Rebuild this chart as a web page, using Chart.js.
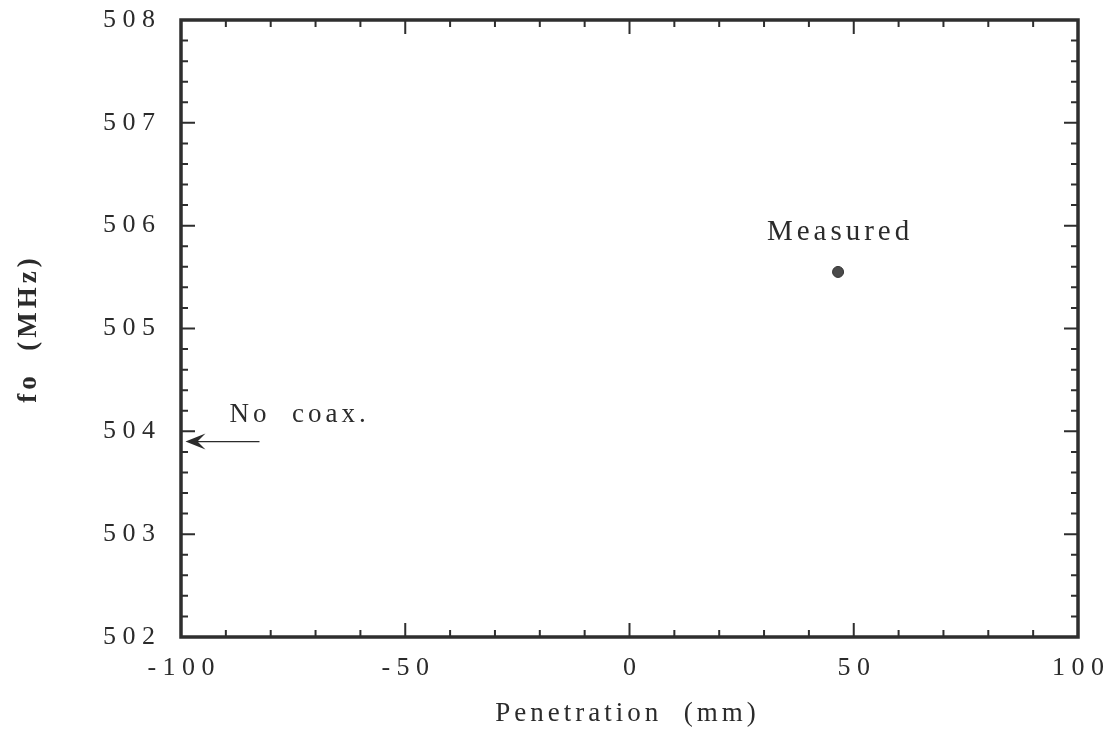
<!DOCTYPE html>
<html><head><meta charset="utf-8">
<script src="https://cdn.jsdelivr.net/npm/chart.js@4/dist/chart.umd.min.js"></script>
<style>html,body{margin:0;padding:0;background:#fff}#wrap{width:1113px;height:747px}</style>
</head><body><div id="wrap"><canvas id="c" width="1113" height="747"></canvas></div>
<script>
// ---- data ----
const measuredX = [46.5];
const measuredY = [505.55];
const measuredLabel = 'Measured';
const noCoaxY = 503.9;
const noCoaxArrowX = [-82.5, -99];
const noCoaxLabel = 'No  coax.';
const xRange = [-100, 100];
const yRange = [502, 508];
const xMajorStep = 50, xMinorStep = 10;
const yMajorStep = 1, yMinorStep = 0.2;
const xTitle = 'Penetration  (mm)';
const yTitle = 'fo  (MHz)';

const SERIF = '"Liberation Serif", "DejaVu Serif", serif';
const INK = '#2b2b2b';
const spaced = v => String(v).split('').join(' ');

const framePlugin = {
  id: 'frame',
  afterDraw(chart) {
    const {ctx, chartArea: a, scales: {x, y}} = chart;
    ctx.save();
    ctx.strokeStyle = '#2e2e2e';
    ctx.lineWidth = 3.5;
    ctx.strokeRect(a.left, a.top, a.right - a.left, a.bottom - a.top);
    ctx.lineWidth = 2;
    ctx.beginPath();
    const nx = Math.round((xRange[1] - xRange[0]) / xMinorStep);
    for (let i = 1; i < nx; i++) {
      const v = xRange[0] + i * xMinorStep;
      const major = Math.abs(v / xMajorStep - Math.round(v / xMajorStep)) < 1e-6;
      const L = major ? 14 : 7;
      const px = x.getPixelForValue(v);
      ctx.moveTo(px, a.bottom); ctx.lineTo(px, a.bottom - L);
      ctx.moveTo(px, a.top); ctx.lineTo(px, a.top + L);
    }
    const ny = Math.round((yRange[1] - yRange[0]) / yMinorStep);
    for (let i = 1; i < ny; i++) {
      const v = yRange[0] + i * yMinorStep;
      const q = (v - yRange[0]) / yMajorStep;
      const major = Math.abs(q - Math.round(q)) < 1e-6;
      const L = major ? 14 : 7;
      const py = y.getPixelForValue(v);
      ctx.moveTo(a.left, py); ctx.lineTo(a.left + L, py);
      ctx.moveTo(a.right, py); ctx.lineTo(a.right - L, py);
    }
    ctx.stroke();

    ctx.fillStyle = INK;
    ctx.strokeStyle = INK;
    try { ctx.letterSpacing = '4px'; } catch (e) {}
    ctx.font = '29px ' + SERIF;
    ctx.textAlign = 'center';
    ctx.textBaseline = 'alphabetic';
    const mx = x.getPixelForValue(measuredX[0]);
    const my = y.getPixelForValue(measuredY[0]);
    ctx.fillText(measuredLabel, mx + 2, my - 32);

    const ay = y.getPixelForValue(noCoaxY);
    const ax0 = x.getPixelForValue(noCoaxArrowX[0]);
    const ax1 = x.getPixelForValue(noCoaxArrowX[1]);
    ctx.lineWidth = 1.2;
    ctx.beginPath();
    ctx.moveTo(ax0, ay); ctx.lineTo(ax1 + 6, ay);
    ctx.stroke();
    ctx.beginPath();
    ctx.moveTo(ax1, ay);
    ctx.lineTo(ax1 + 20, ay - 8);
    ctx.lineTo(ax1 + 12, ay);
    ctx.lineTo(ax1 + 20, ay + 8);
    ctx.closePath();
    ctx.fill();
    ctx.font = '27px ' + SERIF;
    ctx.textAlign = 'left';
    ctx.fillText(noCoaxLabel, ax1 + 44, ay - 20);

    ctx.font = '27px ' + SERIF;
    ctx.textAlign = 'center';
    ctx.fillText(xTitle, (a.left + a.right) / 2 - 2, 721);
    ctx.save();
    ctx.translate(36, (a.top + a.bottom) / 2);
    ctx.rotate(-Math.PI / 2);
    ctx.font = 'bold 27px ' + SERIF;
    ctx.fillText(yTitle, 0, 0);
    ctx.restore();
    ctx.restore();
  }
};

new Chart(document.getElementById('c'), {
  type: 'scatter',
  data: {
    datasets: [{
      label: measuredLabel,
      data: measuredX.map((v, i) => ({x: v, y: measuredY[i]})),
      pointRadius: 5.5,
      pointBackgroundColor: '#4a4a4a',
      pointBorderColor: '#333',
      pointBorderWidth: 1
    }]
  },
  options: {
    responsive: false,
    animation: false,
    layout: {padding: {top: 20, right: 35, left: 0, bottom: 0}},
    plugins: {legend: {display: false}, tooltip: {enabled: false}},
    scales: {
      x: {
        type: 'linear', min: xRange[0], max: xRange[1],
        grid: {display: false, drawTicks: false},
        border: {display: false},
        ticks: {stepSize: xMajorStep, padding: 16, color: INK,
          font: {family: SERIF, size: 26}, callback: v => spaced(v), maxRotation: 0},
        afterFit(s) { s.height = 110; s.paddingLeft = 0; s.paddingRight = 0; }
      },
      y: {
        type: 'linear', min: yRange[0], max: yRange[1],
        grid: {display: false, drawTicks: false},
        border: {display: false},
        ticks: {stepSize: yMajorStep, padding: 26, color: INK,
          font: {family: SERIF, size: 26}, callback: v => spaced(v)},
        afterFit(s) { s.width = 181; s.paddingTop = 0; s.paddingBottom = 0; }
      }
    }
  },
  plugins: [framePlugin]
});
</script>
</body></html>
